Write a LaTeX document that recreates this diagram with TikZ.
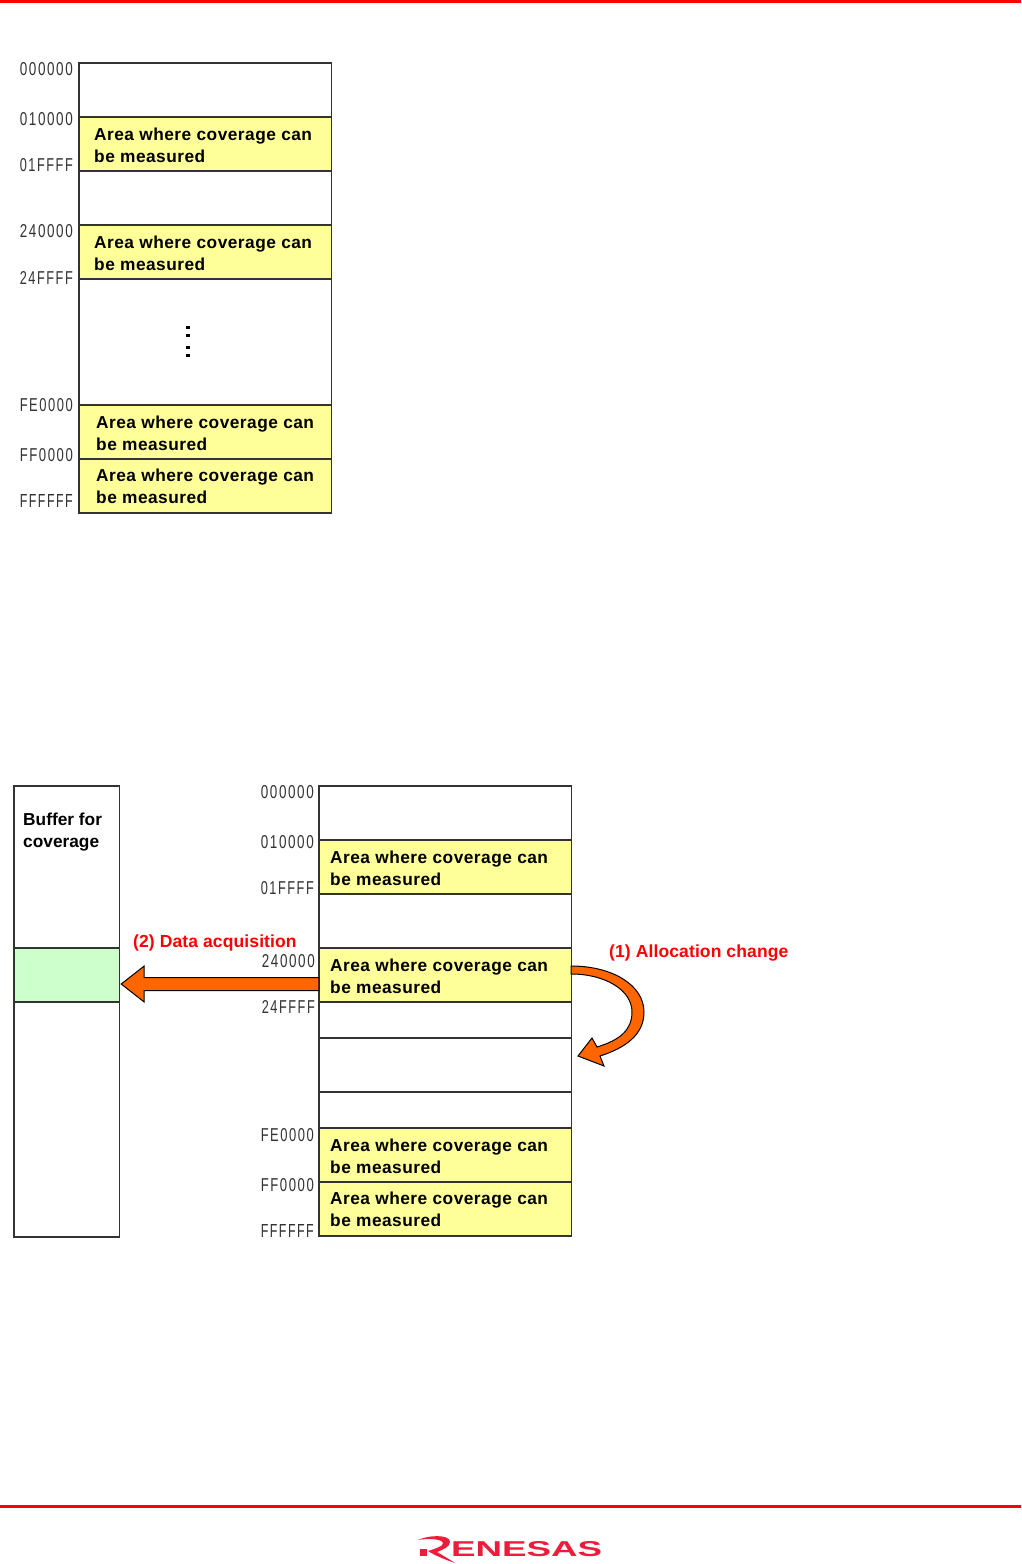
\documentclass[tikz,border=0pt]{standalone}
\usepackage{fontspec}
\usepackage{graphicx}
\setmainfont{Liberation Sans}
\newfontfamily\lfont[LetterSpace=12]{Liberation Sans}
\newfontfamily\rfont[LetterSpace=2.8]{Liberation Sans Bold}
\newfontfamily\hfont[LetterSpace=0.7]{Liberation Sans Bold}
\newfontfamily\gfont{Liberation Sans Bold}
\usetikzlibrary{calc}
\definecolor{areay}{HTML}{FFFF99}
\definecolor{bufg}{HTML}{CCFFCC}
\definecolor{arrowo}{HTML}{FF6600}
\definecolor{topred}{HTML}{FF0000}
\definecolor{logored}{HTML}{EE1C3A}
\definecolor{linegray}{HTML}{333333}
\tikzset{
  x=1pt,y=-1pt,
  cellbox/.style={draw=linegray,line width=1.4pt,anchor=north west,inner sep=0pt,outer sep=0pt,fill=white,xshift=-0.2pt},
  wcell/.style={cellbox,minimum width=252.4pt},
  ycell/.style={cellbox,minimum width=252.4pt,minimum height=54pt,fill=areay},
  areatext/.style={anchor=west,inner sep=0pt,align=left,font=\fontsize{17.3}{22}\selectfont\rfont,text=black},
  addr/.style={anchor=east,inner sep=0pt,text=black!80},
  redtext/.style={anchor=west,inner sep=0pt,font=\fontsize{17.5}{20}\selectfont\hfont,text=topred},
  bigarrow/.style={draw=black,line width=1pt,fill=arrowo,line join=miter},
  rule/.style={fill=topred,draw=none},
  dotmark/.style={fill=black,inner sep=0pt,minimum width=4.5pt,minimum height=3pt},
}
\newcommand{\areatxt}{Area where coverage can\\be measured}
\newcommand{\addrtxt}[1]{\resizebox{53pt}{13pt}{\lfont #1}}
\begin{document}
\begin{tikzpicture}
\useasboundingbox (0,0) rectangle (1021,1564);
\fill[white] (0,0) rectangle (1021,1564);
\path[rule] (0,0) rectangle (1021,3);
\path[rule] (0,1505) rectangle (1021,1508);
% top memory map
\node[wcell,minimum height=54pt] (a0) at (79,63) {};
\node[ycell] (a1) at (79,117) {};
\node[wcell,minimum height=54pt] (a2) at (79,171) {};
\node[ycell] (a3) at (79,225) {};
\node[wcell,minimum height=126pt] (a4) at (79,279) {};
\node[ycell] (a5) at (79,405) {};
\node[ycell] (a6) at (79,459) {};
\node[areatext] (ta1) at (94,145) {\areatxt};
\node[areatext] (ta3) at (94,253) {\areatxt};
\node[areatext] (ta5) at (96,433) {\areatxt};
\node[areatext] (ta6) at (96,486) {\areatxt};
\foreach \n/\y in {d1/327,d2/335,d3/347,d4/355}{
  \node[dotmark] (\n) at (188,\y) {};
}
\node[addr] (l0) at (73,69) {\addrtxt{000000}};
\node[addr] (l1) at (73,119) {\addrtxt{010000}};
\node[addr] (l2) at (73,165) {\addrtxt{01FFFF}};
\node[addr] (l3) at (73,231) {\addrtxt{240000}};
\node[addr] (l4) at (73,278) {\addrtxt{24FFFF}};
\node[addr] (l5) at (73,405) {\addrtxt{FE0000}};
\node[addr] (l6) at (73,455) {\addrtxt{FF0000}};
\node[addr] (l7) at (73,501) {\addrtxt{FFFFFF}};
% bottom buffer
\node[cellbox,minimum width=105.4pt,minimum height=162pt] (b0) at (14,786) {};
\node[cellbox,minimum width=105.4pt,minimum height=54pt,fill=bufg] (b1) at (14,948) {};
\node[cellbox,minimum width=105.4pt,minimum height=235pt] (b2) at (14,1002) {};
\node[anchor=north west,inner sep=0pt,align=left,font=\fontsize{17.3}{22}\selectfont\gfont] (bt) at (23,813) {Buffer for\\coverage};
% bottom memory map
\node[wcell,minimum height=54pt] (c0) at (319,786) {};
\node[ycell] (c1) at (319,840) {};
\node[wcell,minimum height=54pt] (c2) at (319,894) {};
\node[ycell] (c3) at (319,948) {};
\node[wcell,minimum height=36pt] (c4) at (319,1002) {};
\node[wcell,minimum height=54pt] (c5) at (319,1038) {};
\node[wcell,minimum height=36pt] (c6) at (319,1092) {};
\node[ycell] (c7) at (319,1128) {};
\node[ycell] (c8) at (319,1182) {};
\node[areatext] (tc1) at (330,868) {\areatxt};
\node[areatext] (tc3) at (330,976) {\areatxt};
\node[areatext] (tc7) at (330,1156) {\areatxt};
\node[areatext] (tc8) at (330,1209) {\areatxt};
\node[addr] (m0) at (314,792) {\addrtxt{000000}};
\node[addr] (m1) at (314,842) {\addrtxt{010000}};
\node[addr] (m2) at (314,888) {\addrtxt{01FFFF}};
\node[addr] (m3) at (315,961) {\addrtxt{240000}};
\node[addr] (m4) at (315,1007) {\addrtxt{24FFFF}};
\node[addr] (m5) at (314,1135) {\addrtxt{FE0000}};
\node[addr] (m6) at (314,1185) {\addrtxt{FF0000}};
\node[addr] (m7) at (314,1231) {\addrtxt{FFFFFF}};
\node[redtext] (r2) at (133,942.5) {(2) Data acquisition};
\node[redtext] (r1) at (609,953.5) {(1) Allocation change};
% data acquisition arrow, from c3 to b1
\coordinate (as) at ($(c3.west)+(0,9)$);
\coordinate (ae) at ($(b1.east)+(2,9)$);
\draw[bigarrow] ($(as)+(0,-6.5)$) -- ($(ae)+(23,-6.5)$) -- ($(ae)+(23,-18)$) -- (ae) -- ($(ae)+(23,18)$) -- ($(ae)+(23,6.5)$) -- ($(as)+(0,6.5)$) -- cycle;
% allocation change arrow, from c3 to c5
\coordinate (bs) at ($(c3.east)+(0,-9)$);
\draw[bigarrow] (bs) .. controls (612,966) and (644,985) .. (644,1012)
  .. controls (644,1035) and (625,1048) .. (600,1056)
  -- (604,1066) -- (578,1056) -- (592,1038) -- (597,1047)
  .. controls (620,1040) and (632,1030) .. (632,1012)
  .. controls (632,990) and (605,974) .. ($(bs)+(0,8)$) -- cycle;
% logo
\fill[logored] (420,1549) rectangle (427,1556);
\fill[logored] (418,1540) .. controls (428,1535) and (450,1534) .. (450,1542)
  .. controls (450,1547) and (442,1550) .. (437,1552)
  .. controls (442,1555) and (449,1559) .. (455,1563)
  .. controls (446,1560) and (434,1555) .. (428,1551)
  .. controls (434,1549) and (444,1546) .. (443,1543)
  .. controls (442,1539) and (428,1538) .. (418,1540) -- cycle;
\node[anchor=west,inner sep=0pt,text=logored] (logo) at (451,1549.5) {\resizebox{151pt}{15pt}{\gfont ENESAS}};
\end{tikzpicture}
\end{document}
